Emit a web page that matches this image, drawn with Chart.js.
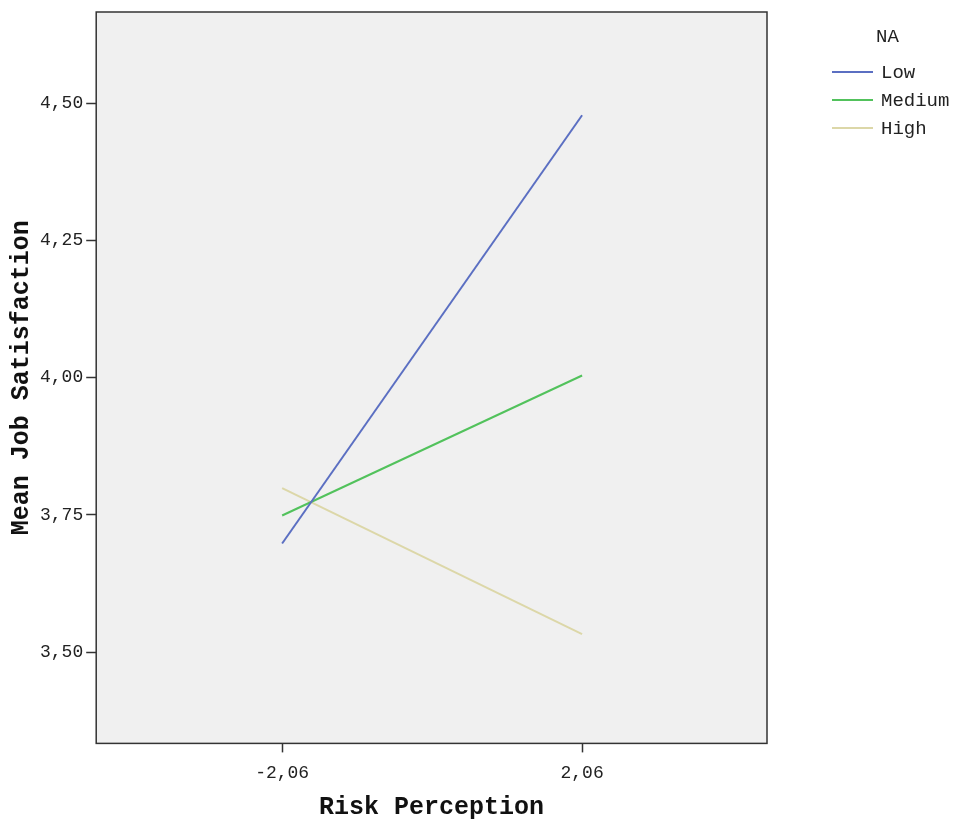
<!DOCTYPE html>
<html>
<head>
<meta charset="utf-8">
<script src="https://cdn.jsdelivr.net/npm/chart.js@4/dist/chart.umd.min.js"></script>
<style>
    html, body { margin: 0; padding: 0; background: #ffffff; }
    #wrap { width: 958px; height: 825px; position: relative; }
</style>
</head>
<body>
<div id="wrap"><canvas id="interactionChart"></canvas></div>
<script>
// Data
const xValues = [-2.06, 2.06];
const lowValues = [3.698, 4.478];
const mediumValues = [3.749, 4.004];
const highValues = [3.799, 3.533];
const seriesNames = ['Low', 'Medium', 'High'];
const legendTitle = 'NA';
const xTicks = [-2.06, 2.06];
const yTicks = [3.50, 3.75, 4.00, 4.25, 4.50];

const colors = ['#5b6fc2', '#52c25c', '#dcd7a8'];
const mono = '"Liberation Mono", "Courier New", "DejaVu Sans Mono", monospace';

function toPoints(values) {
    return values.map((v, i) => ({ x: xValues[i], y: v }));
}

const commaFormat = v => Number(v).toFixed(2).replace('.', ',');

// Grey plot background and dark frame
const plotFrame = {
    id: 'plotFrame',
    beforeDatasetsDraw(chart) {
        const { ctx, chartArea: a } = chart;
        ctx.save();
        ctx.fillStyle = '#f0f0f0';
        ctx.fillRect(a.left, a.top, a.right - a.left, a.bottom - a.top);
        ctx.restore();
    },
    afterDatasetsDraw(chart) {
        const { ctx, chartArea: a } = chart;
        ctx.save();
        ctx.strokeStyle = '#333333';
        ctx.lineWidth = 1.5;
        ctx.strokeRect(a.left, a.top, a.right - a.left, a.bottom - a.top);
        ctx.restore();
    }
};

// Legend on the right, SPSS style
const sideLegend = {
    id: 'sideLegend',
    afterDraw(chart) {
        const { ctx } = chart;
        ctx.save();
        ctx.fillStyle = '#222222';
        ctx.font = '19px ' + mono;
        ctx.textBaseline = 'middle';
        ctx.textAlign = 'left';
        ctx.fillText(legendTitle, 876, 37);
        seriesNames.forEach((name, i) => {
            const y = 72 + i * 28;
            ctx.strokeStyle = colors[i];
            ctx.lineWidth = 2;
            ctx.beginPath();
            ctx.moveTo(832, y);
            ctx.lineTo(873, y);
            ctx.stroke();
            ctx.fillStyle = '#222222';
            ctx.fillText(name, 881, y + 1);
        });
        ctx.restore();
    }
};

const ctx = document.getElementById('interactionChart').getContext('2d');
new Chart(ctx, {
    type: 'line',
    data: {
        datasets: [
            { label: seriesNames[0], data: toPoints(lowValues), borderColor: colors[0] },
            { label: seriesNames[1], data: toPoints(mediumValues), borderColor: colors[1] },
            { label: seriesNames[2], data: toPoints(highValues), borderColor: colors[2] }
        ].map(d => Object.assign(d, { borderWidth: 2, pointRadius: 0, fill: false, tension: 0 }))
    },
    options: {
        responsive: true,
        maintainAspectRatio: false,
        animation: false,
        layout: { padding: { top: 12, right: 191, bottom: 5, left: 7 } },
        plugins: {
            legend: { display: false },
            tooltip: { enabled: false }
        },
        scales: {
            x: {
                type: 'linear',
                min: -4.614,
                max: 4.6,
                afterBuildTicks: axis => { axis.ticks = xTicks.map(v => ({ value: v })); },
                ticks: {
                    color: '#222222',
                    font: { family: mono, size: 18 },
                    padding: 10,
                    maxRotation: 0,
                    callback: v => commaFormat(v)
                },
                grid: { drawOnChartArea: false, tickLength: 9, color: '#333333', tickWidth: 1.5 },
                border: { display: false },
                title: {
                    display: true,
                    text: 'Risk Perception',
                    color: '#111111',
                    font: { family: mono, size: 25, weight: 'bold', lineHeight: 1 },
                    padding: { top: 1, bottom: 0 }
                }
            },
            y: {
                min: 3.334,
                max: 4.666,
                afterBuildTicks: axis => { axis.ticks = yTicks.map(v => ({ value: v })); },
                afterFit: axis => { axis.paddingTop = 0; },
                ticks: {
                    color: '#222222',
                    font: { family: mono, size: 18 },
                    padding: 3,
                    callback: v => commaFormat(v)
                },
                grid: { drawOnChartArea: false, tickLength: 10, color: '#333333', tickWidth: 1.5 },
                border: { display: false },
                title: {
                    display: true,
                    text: 'Mean Job Satisfaction',
                    color: '#111111',
                    font: { family: mono, size: 25, weight: 'bold' },
                    padding: { top: 0, bottom: 0 }
                }
            }
        }
    },
    plugins: [plotFrame, sideLegend]
});
</script>
</body>
</html>
